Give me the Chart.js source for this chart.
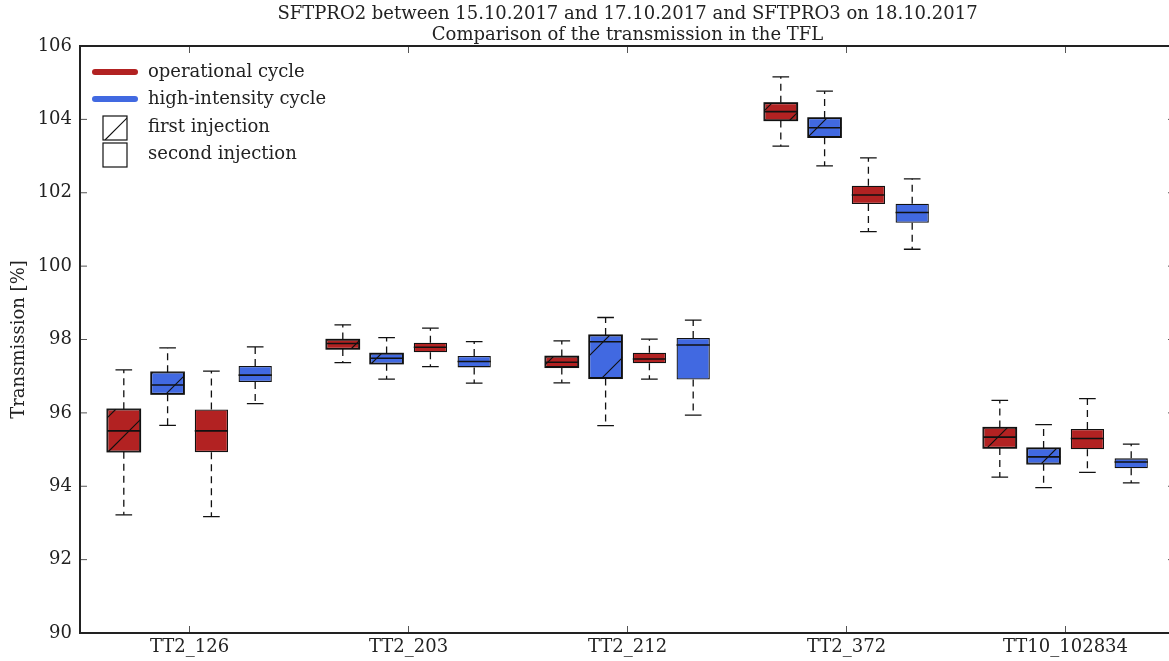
<!DOCTYPE html>
<html>
<head>
<meta charset="utf-8">
<script src="https://cdn.jsdelivr.net/npm/chart.js@4.4.1/dist/chart.umd.min.js"></script>
<style>
  html, body { margin: 0; padding: 0; background: #fff; overflow: hidden; }
  #wrap { width: 1185px; height: 661px; }
</style>
</head>
<body>
<div id="wrap"><canvas id="boxChart" width="1185" height="661"></canvas></div>
<script>
// five-number summaries per category: [lower whisker, q1, median, q3, upper whisker]
const categories = ['TT2_126', 'TT2_203', 'TT2_212', 'TT2_372', 'TT10_102834'];
const yTicks = [90, 92, 94, 96, 98, 100, 102, 104, 106];

const operationalFirst = [
  [93.22, 94.94, 95.51, 96.10, 97.17],
  [97.37, 97.74, 97.89, 98.00, 98.40],
  [96.82, 97.24, 97.38, 97.54, 97.96],
  [103.27, 103.97, 104.21, 104.45, 105.16],
  [94.25, 95.04, 95.34, 95.60, 96.34]
];
const highIntensityFirst = [
  [95.66, 96.51, 96.76, 97.11, 97.77],
  [96.92, 97.34, 97.49, 97.62, 98.05],
  [95.65, 96.94, 97.94, 98.12, 98.60],
  [102.73, 103.51, 103.77, 104.04, 104.77],
  [93.96, 94.61, 94.80, 95.04, 95.68]
];
const operationalSecond = [
  [93.17, 94.93, 95.51, 96.09, 97.14],
  [97.26, 97.65, 97.79, 97.91, 98.31],
  [96.92, 97.35, 97.47, 97.64, 98.01],
  [100.94, 101.69, 101.94, 102.19, 102.95],
  [94.38, 95.01, 95.30, 95.56, 96.39]
];
const highIntensitySecond = [
  [96.25, 96.84, 97.03, 97.28, 97.80],
  [96.81, 97.24, 97.40, 97.55, 97.94],
  [95.94, 96.91, 97.85, 98.04, 98.53],
  [100.46, 101.18, 101.46, 101.70, 102.38],
  [94.09, 94.49, 94.66, 94.76, 95.15]
];

const RED = '#b22222';
const BLUE = '#4169e1';
const FONT = 'DejaVu Serif';

function boxDataset(stats, color, hatched) {
  return {
    data: stats.map(s => [s[1], s[3]]),
    stats: stats,
    hatched: hatched,
    backgroundColor: color,
    borderColor: '#111',
    borderWidth: 1.3,
    borderSkipped: false,
    barPercentage: 0.76,
    categoryPercentage: 0.8
  };
}

function hatchRect(ctx, x0, y0, x1, y1, period) {
  ctx.save();
  ctx.beginPath();
  ctx.rect(x0, y0, x1 - x0, y1 - y0);
  ctx.clip();
  ctx.strokeStyle = '#111';
  ctx.lineWidth = 1.2;
  ctx.beginPath();
  const start = Math.floor((x0 + y0) / period) * period;
  for (let c = start; c <= x1 + y1 + period; c += period) {
    // line x + y = c
    ctx.moveTo(c - y1, y1);
    ctx.lineTo(c - y0, y0);
  }
  ctx.stroke();
  ctx.restore();
}

const boxPlugin = {
  id: 'boxPlugin',
  afterDatasetsDraw(chart) {
    const ctx = chart.ctx;
    const y = chart.scales.y;
    chart.data.datasets.forEach((ds, di) => {
      const meta = chart.getDatasetMeta(di);
      meta.data.forEach((bar, i) => {
        const s = ds.stats[i];
        const half = bar.width / 2;
        const left = bar.x - half, right = bar.x + half;
        const top = y.getPixelForValue(s[3]);
        const bottom = y.getPixelForValue(s[1]);
        if (ds.hatched) {
          hatchRect(ctx, left, top, right, bottom, 35);
          ctx.save();
          ctx.strokeStyle = '#111';
          ctx.lineWidth = 1.3;
          ctx.strokeRect(left, top, right - left, bottom - top);
          ctx.restore();
        }
        ctx.save();
        ctx.strokeStyle = '#111';
        // median
        ctx.lineWidth = 1.6;
        const med = y.getPixelForValue(s[2]);
        ctx.beginPath();
        ctx.moveTo(left, med);
        ctx.lineTo(right, med);
        ctx.stroke();
        // whiskers
        ctx.lineWidth = 1.3;
        ctx.setLineDash([7, 5]);
        const lo = y.getPixelForValue(s[0]);
        const hi = y.getPixelForValue(s[4]);
        ctx.beginPath();
        ctx.moveTo(bar.x, top);
        ctx.lineTo(bar.x, hi);
        ctx.moveTo(bar.x, bottom);
        ctx.lineTo(bar.x, lo);
        ctx.stroke();
        // caps
        ctx.setLineDash([]);
        ctx.beginPath();
        ctx.moveTo(bar.x - half / 2, hi);
        ctx.lineTo(bar.x + half / 2, hi);
        ctx.moveTo(bar.x - half / 2, lo);
        ctx.lineTo(bar.x + half / 2, lo);
        ctx.stroke();
        ctx.restore();
      });
    });
  },
  afterDraw(chart) {
    const ctx = chart.ctx;
    const a = chart.chartArea;
    const x = chart.scales.x, y = chart.scales.y;
    ctx.save();
    // inward ticks
    ctx.strokeStyle = '#555';
    ctx.lineWidth = 1;
    ctx.beginPath();
    y.ticks.forEach((t, i) => {
      const py = y.getPixelForTick(i);
      ctx.moveTo(a.left, py); ctx.lineTo(a.left + 7, py);
      ctx.moveTo(a.right, py); ctx.lineTo(a.right - 7, py);
    });
    x.ticks.forEach((t, i) => {
      const px = x.getPixelForTick(i);
      ctx.moveTo(px, a.bottom); ctx.lineTo(px, a.bottom - 7);
      ctx.moveTo(px, a.top); ctx.lineTo(px, a.top + 7);
    });
    ctx.stroke();
    // frame
    ctx.strokeStyle = '#222';
    ctx.lineWidth = 2;
    ctx.strokeRect(a.left, a.top, a.right - a.left, a.bottom - a.top);

    // legend
    const lx = a.left + 15, tx = a.left + 68;
    ctx.lineCap = 'round';
    ctx.lineWidth = 6;
    [[RED, 72], [BLUE, 99]].forEach(([c, ly]) => {
      ctx.strokeStyle = c;
      ctx.beginPath();
      ctx.moveTo(lx, ly); ctx.lineTo(lx + 40, ly);
      ctx.stroke();
    });
    ctx.lineCap = 'butt';
    ctx.fillStyle = '#fff';
    ctx.strokeStyle = '#111';
    ctx.lineWidth = 1.2;
    ctx.fillRect(a.left + 23, 116, 24, 24);
    hatchRect(ctx, a.left + 23, 116, a.left + 47, 140, 35);
    ctx.strokeRect(a.left + 23, 116, 24, 24);
    ctx.strokeRect(a.left + 23, 143, 24, 24);
    ctx.fillStyle = '#222';
    ctx.font = '18px "' + FONT + '"';
    ctx.textBaseline = 'middle';
    ctx.textAlign = 'left';
    ['operational cycle', 'high-intensity cycle', 'first injection', 'second injection']
      .forEach((label, i) => ctx.fillText(label, tx, [72, 99, 127, 154][i]));
    ctx.restore();
  }
};

new Chart(document.getElementById('boxChart').getContext('2d'), {
  type: 'bar',
  data: {
    labels: categories,
    datasets: [
      boxDataset(operationalFirst, RED, true),
      boxDataset(highIntensityFirst, BLUE, true),
      boxDataset(operationalSecond, RED, false),
      boxDataset(highIntensitySecond, BLUE, false)
    ]
  },
  options: {
    responsive: false,
    animation: false,
    devicePixelRatio: 1,
    layout: { padding: { left: 0, right: 10, top: 0, bottom: 0 } },
    plugins: {
      legend: { display: false },
      tooltip: { enabled: false },
      title: {
        display: true,
        fullSize: false,
        text: ['SFTPRO2 between 15.10.2017 and 17.10.2017 and SFTPRO3 on 18.10.2017',
               'Comparison of the transmission in the TFL'],
        color: '#222',
        font: { family: FONT, size: 18, weight: 'normal', lineHeight: 1.15 },
        padding: { top: 4, bottom: 0.6 }
      }
    },
    scales: {
      x: {
        grid: { display: false, drawTicks: false },
        border: { display: false },
        ticks: { color: '#222', font: { family: FONT, size: 18 }, padding: 4, maxRotation: 0 },
        afterFit(scale) { scale.height = 28; }
      },
      y: {
        min: 90,
        max: 106,
        afterBuildTicks(scale) { scale.ticks = yTicks.map(v => ({ value: v })); },
        grid: { display: false, drawTicks: false },
        border: { display: false },
        ticks: { color: '#222', font: { family: FONT, size: 18 }, padding: 8 },
        title: {
          display: true,
          text: 'Transmission [%]',
          color: '#222',
          font: { family: FONT, size: 18 },
          padding: { top: 9, bottom: 0 }
        },
        afterFit(scale) { scale.width = 80; }
      }
    }
  },
  plugins: [boxPlugin]
});
</script>
</body>
</html>
